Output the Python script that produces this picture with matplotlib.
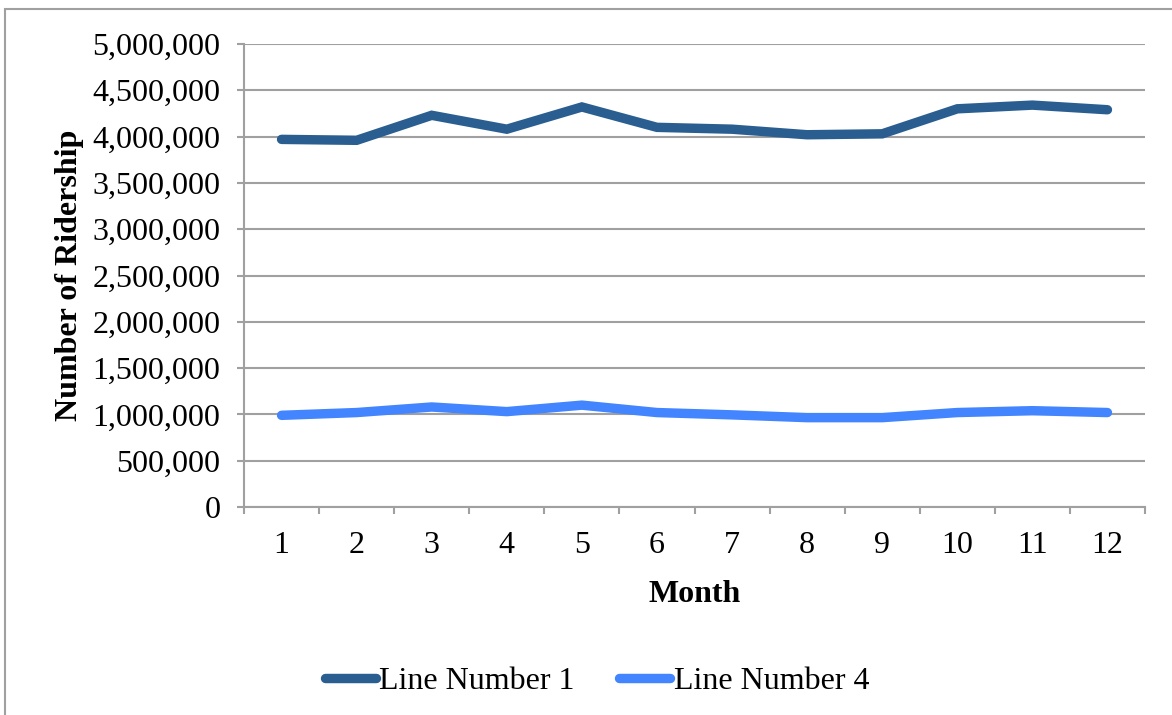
import matplotlib
matplotlib.use("Agg")
from matplotlib import pyplot as plt
from matplotlib.ticker import FuncFormatter, FixedLocator
from matplotlib.patches import Rectangle

months = list(range(1, 13))
line_1 = [3970000, 3960000, 4230000, 4080000, 4320000, 4100000,
          4080000, 4020000, 4030000, 4300000, 4340000, 4290000]
line_4 = [990000, 1020000, 1080000, 1030000, 1100000, 1020000,
          995000, 965000, 965000, 1020000, 1040000, 1020000]
series_names = ["Line Number 1", "Line Number 4"]

plt.rcParams['font.family'] = ['Liberation Serif', 'DejaVu Serif']

fig = plt.figure(figsize=(11.72, 7.15), dpi=100)
ax = fig.add_axes([244 / 1172, 1 - 507 / 715, (1145 - 244) / 1172, (507 - 44) / 715])

grid_c = '#A0A0A0'
ax.plot(months, line_1, color='#2A5E91', lw=6.8, solid_capstyle='round',
        solid_joinstyle='miter', label=series_names[0], zorder=3)
ax.plot(months, line_4, color='#4285FF', lw=6.8, solid_capstyle='round',
        solid_joinstyle='miter', label=series_names[1], zorder=3)

ax.set_xlim(0.5, 12.5)
ax.set_ylim(0, 5000000)
ax.set_yticks(range(0, 5000001, 500000))
ax.yaxis.set_major_formatter(FuncFormatter(lambda v, p: "{:,}".format(int(v))))
ax.yaxis.grid(True, color=grid_c, lw=1.5)
ax.set_axisbelow(True)

# month labels centred, tick marks between the months
ax.xaxis.set_major_locator(FixedLocator([m - 0.5 for m in months] + [12.5]))
ax.xaxis.set_major_formatter(FuncFormatter(lambda v, p: ""))
ax.xaxis.set_minor_locator(FixedLocator(months))
ax.set_xticklabels([str(m) for m in months], minor=True)
ax.tick_params(axis='x', which='major', length=5, width=1.5, color=grid_c, direction='out')
ax.tick_params(axis='x', which='minor', length=0, labelsize=23, pad=17)
ax.tick_params(axis='y', length=5, width=1.5, color=grid_c, labelsize=23, pad=12)

for s in ['top', 'right']:
    ax.spines[s].set_visible(False)
for s in ['left', 'bottom']:
    ax.spines[s].set_color(grid_c)
    ax.spines[s].set_linewidth(1.5)

ax.set_xlabel("Month", fontsize=23, fontweight='bold', labelpad=15)
ax.set_ylabel("Number of Ridership", fontsize=23, fontweight='bold', labelpad=6)

fig.legend(loc='center', bbox_to_anchor=(0.5 + 11 / 1172, 1 - 681 / 715), ncol=2, frameon=False,
           fontsize=23, handlelength=1.6, handletextpad=0.1, columnspacing=1.4)

# outer chart border (only top and left fall inside the picture)
fig.patches.append(Rectangle((5 / 1172, -0.05), 1.2, 1.05 - 9 / 715, transform=fig.transFigure,
                             fill=False, edgecolor=grid_c, lw=1.5))

fig.savefig("out.png", dpi=100)
